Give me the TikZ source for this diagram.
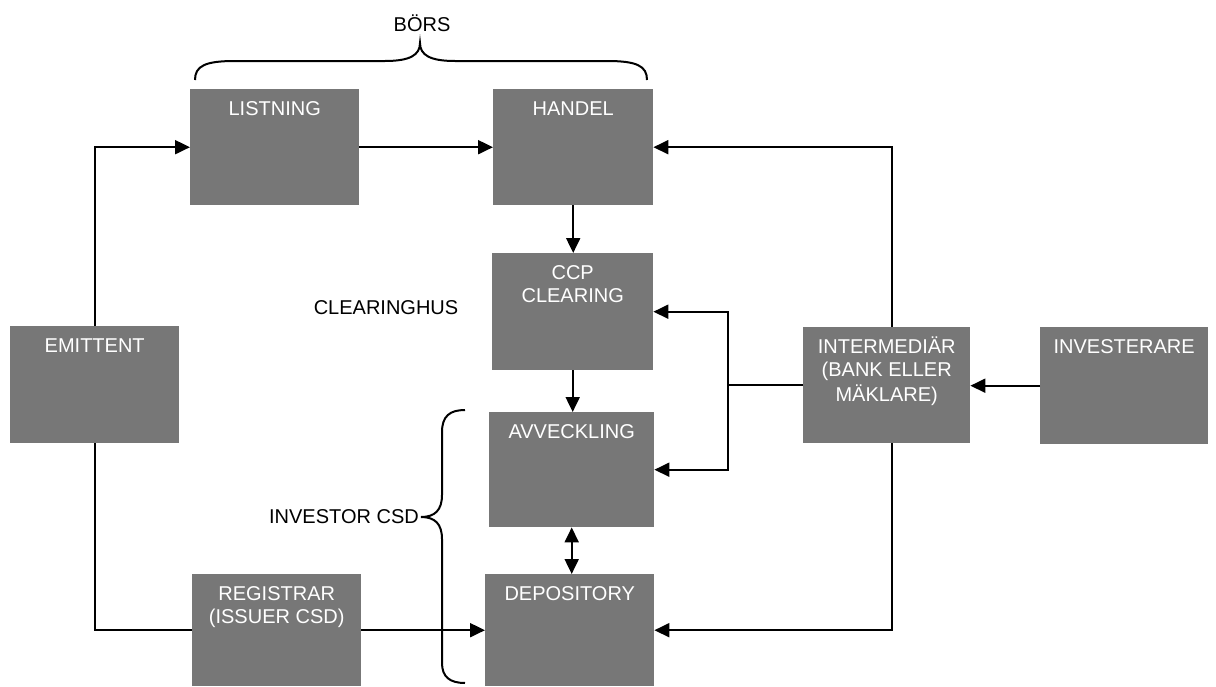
\documentclass[tikz,border=0pt]{standalone}
\usepackage{fontspec}
\setmainfont{Liberation Sans}
\usetikzlibrary{arrows.meta}
\definecolor{boxgray}{HTML}{777777}
\newcommand{\boxtxt}[3]{\parbox[c][#2][t]{#1}{\centering\vspace*{10pt}#3}}
\newcommand{\ls}{\strut}
\begin{document}
\begin{tikzpicture}[x=1pt,y=-1pt,
  box/.style={fill=boxgray,text=white,inner sep=0pt,anchor=north west,font=\fontsize{20}{23}\selectfont},
  lbl/.style={text=black,inner sep=0pt,font=\fontsize{20}{23}\selectfont},
  conn/.style={line width=2pt,black},
  arr/.style={conn,-{Triangle[length=15pt,width=14pt]}},
  arrb/.style={conn,{Triangle[length=15pt,width=14pt]}-{Triangle[length=15pt,width=14pt]}},
  brace/.style={line width=2pt,black}]
\useasboundingbox (0,0) rectangle (1216,686);
\fill[white] (0,0) rectangle (1216,686);

\node[box] (listning) at (190,89) {\boxtxt{169pt}{116pt}{\ls LISTNING}};
\node[box] (handel) at (493,89) {\boxtxt{160pt}{116pt}{\ls HANDEL}};
\node[box] (ccp) at (492,253) {\boxtxt{161pt}{117pt}{\ls CCP\\\ls CLEARING}};
\node[box] (avv) at (489,412) {\boxtxt{165pt}{115pt}{\ls AVVECKLING}};
\node[box] (dep) at (485,574) {\boxtxt{169pt}{112pt}{\ls DEPOSITORY}};
\node[box] (reg) at (192,574) {\boxtxt{169pt}{112pt}{\ls REGISTRAR\\\ls (ISSUER CSD)}};
\node[box] (emittent) at (10,326) {\boxtxt{169pt}{117pt}{\ls EMITTENT}};
\node[box] (inter) at (803,327) {\boxtxt{167pt}{116pt}{\ls INTERMEDIÄR\\\ls (BANK ELLER\\\ls MÄKLARE)}};
\node[box] (inv) at (1040,327) {\boxtxt{168pt}{117pt}{\ls INVESTERARE}};

\node[lbl] (bors) at (422,23) {BÖRS};
\node[lbl] (clearinghus) at (386,308) {CLEARINGHUS};
\node[lbl,anchor=east] (investorcsd) at (419,517) {INVESTOR CSD};

% connectors
\draw[arr] (emittent.north) |- (listning.west);
\draw[arr] (listning.east) -- (handel.west);
\draw[arr] (handel.south) -- (handel.south |- ccp.north);
\draw[arr] (ccp.south) -- (ccp.south |- avv.north);
\draw[arrb] (avv.south) -- (avv.south |- dep.north);
\draw[arr] ([xshift=5pt]inter.north) |- (handel.east);
\coordinate (j) at ([xshift=-75pt]inter.west);
\draw[conn] (inter.west) -- (j);
\draw[arr] (j) |- (ccp.east);
\draw[arr] (j) |- (avv.east);
\draw[arr] ([xshift=5pt]inter.south) |- (dep.east);
\draw[arr] (inv.west) -- (inv.west -| inter.east);
\draw[conn] (emittent.south) |- (reg.west);
\draw[arr] (reg.east) -- (dep.west);

% braces
\draw[brace] (195,80) .. controls (195,66) and (205,61) .. (235,61)
  -- (385,61) .. controls (410,61) and (420,55) .. (420,43)
  .. controls (420,55) and (430,61) .. (455,61)
  -- (607,61) .. controls (637,61) and (647,66) .. (647,80);
\draw[brace] (465,410) .. controls (450,410) and (442,416) .. (442,432)
  -- (442,495) .. controls (442,510) and (435,517) .. (421,517)
  .. controls (435,517) and (442,524) .. (442,539)
  -- (442,663) .. controls (442,677) and (450,683) .. (465,683);
\end{tikzpicture}
\end{document}
